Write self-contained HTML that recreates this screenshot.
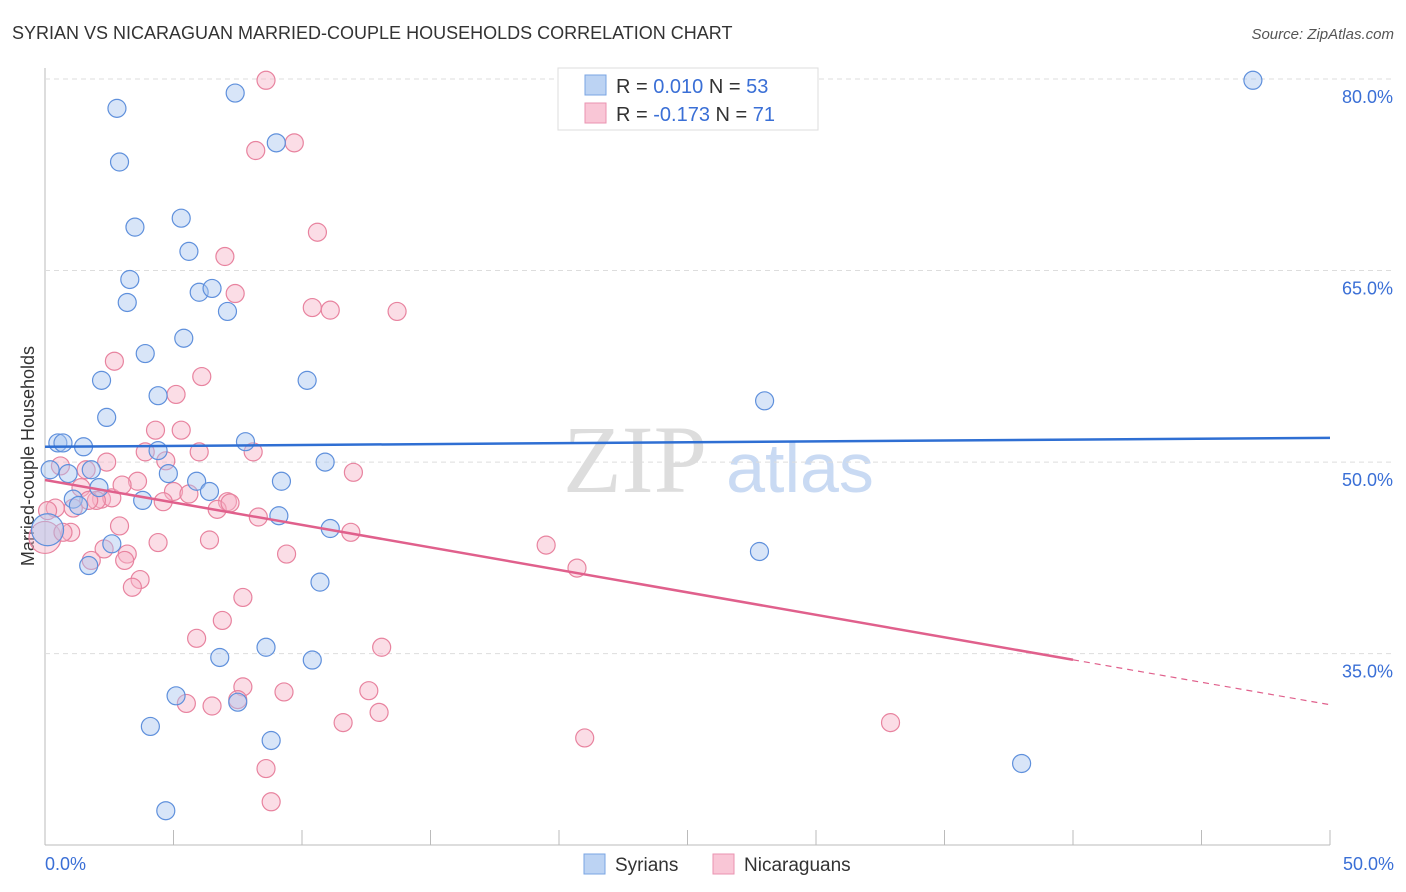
<!DOCTYPE html>
<html><head><meta charset="utf-8"><style>
body{margin:0;background:#fff;font-family:"Liberation Sans",sans-serif}
svg{display:block}
</style></head><body>
<svg id="c" width="1406" height="892">
<text x="12" y="39" font-size="18" fill="#333">SYRIAN VS NICARAGUAN MARRIED-COUPLE HOUSEHOLDS CORRELATION CHART</text>
<text x="1394" y="39" font-size="15" fill="#555" font-style="italic" text-anchor="end">Source: ZipAtlas.com</text>
<text x="635" y="492" font-size="96" fill="#ddd" font-family="Liberation Serif,serif" text-anchor="middle">ZIP</text>
<text x="800" y="492" font-size="70" fill="#c9daf3" text-anchor="middle">atlas</text>
<text transform="translate(34,456) rotate(-90)" font-size="18" fill="#333" text-anchor="middle">Married-couple Households</text>
<g id="grid"></g><g id="pts"></g><g id="lines"></g>
<g>
<rect x="558" y="68" width="260" height="62" fill="#fff" stroke="#ddd"/>
<rect x="585" y="75" width="21" height="20" fill="#bcd3f3" stroke="#7aa5e3"/>
<rect x="585" y="103" width="21" height="20" fill="#f9c6d6" stroke="#ea93b0"/>
<text x="616" y="93" font-size="20" fill="#333">R = <tspan fill="#3a6fd6"> 0.010</tspan>   N = <tspan fill="#3a6fd6">53</tspan></text>
<text x="616" y="121" font-size="20" fill="#333">R = <tspan fill="#3a6fd6">-0.173</tspan>   N = <tspan fill="#3a6fd6"> 71</tspan></text>
</g>
<g>
<rect x="584" y="854" width="21" height="20" fill="#bcd3f3" stroke="#7aa5e3"/>
<text x="615" y="871" font-size="19" fill="#333">Syrians</text>
<rect x="713" y="854" width="21" height="20" fill="#f9c6d6" stroke="#ea93b0"/>
<text x="744" y="871" font-size="19" fill="#333">Nicaraguans</text>
</g>
</svg>
<script>
const yTicks=[80,65,50,35];
const yTickLabels=["80.0%","65.0%","50.0%","35.0%"];
const xTickLabels=["0.0%","50.0%"];
const syrX=[2.8,7.4,2.9,9.0,3.5,5.3,5.6,3.3,3.2,6.0,6.5,7.1,5.4,3.9,2.2,10.2,4.4,2.4,0.5,0.7,1.5,4.4,7.8,10.9,0.9,1.8,4.8,9.2,5.9,2.1,6.4,1.1,3.8,1.3,9.1,11.1,2.6,1.7,10.7,6.8,8.6,10.4,5.1,7.5,4.1,8.8,4.7,47.0,28.0,27.8,38.0,0.2,0.1];
const syrY=[77.7,78.9,73.5,75.0,68.4,69.1,66.5,64.3,62.5,63.3,63.6,61.8,59.7,58.5,56.4,56.4,55.2,53.5,51.5,51.5,51.2,50.9,51.6,50.0,49.1,49.4,49.1,48.5,48.5,48.0,47.7,47.1,47.0,46.6,45.8,44.8,43.6,41.9,40.6,34.7,35.5,34.5,31.7,31.2,29.3,28.2,22.7,79.9,54.8,43.0,26.4,49.4,44.7];
const nicX=[8.6,9.7,8.2,10.6,7.0,7.4,10.4,11.1,13.7,2.7,6.1,5.1,5.3,4.3,3.9,6.0,8.1,2.4,4.7,12.0,0.6,1.4,3.6,5.0,5.6,2.2,2.6,2.0,1.7,7.1,4.6,6.7,0.4,0.1,1.1,8.3,2.9,6.4,1.0,11.9,4.4,19.5,2.3,3.2,3.1,9.4,1.8,20.7,3.7,3.4,7.7,6.9,5.9,13.1,7.7,9.3,12.6,7.5,5.5,6.5,13.0,11.6,32.9,21.0,8.6,8.8,0.0,1.6,0.7,3.0,7.2];
const nicY=[79.9,75.0,74.4,68.0,66.1,63.2,62.1,61.9,61.8,57.9,56.7,55.3,52.5,52.5,50.8,50.8,50.8,50.0,50.1,49.2,49.7,48.0,48.5,47.7,47.5,47.1,47.2,47.0,47.0,46.9,46.9,46.3,46.4,46.2,46.4,45.7,45.0,43.9,44.5,44.5,43.7,43.5,43.2,42.8,42.3,42.8,42.3,41.7,40.8,40.2,39.4,37.6,36.2,35.5,32.4,32.0,32.1,31.4,31.1,30.9,30.4,29.6,29.6,28.4,26.0,23.4,44.1,49.4,44.5,48.2,46.8];
const syrTrend=[51.2,51.9];
const nicTrend=[48.6,31.0];
const NS="http://www.w3.org/2000/svg";
const X=v=>45+v*25.7, Y=v=>79+(80-v)*12.77;
function mk(t,a,p){const e=document.createElementNS(NS,t);for(const k in a)e.setAttribute(k,a[k]);p.appendChild(e);return e;}
const grid=document.getElementById('grid');
mk('line',{x1:45,y1:68,x2:45,y2:845,stroke:'#bbb'},grid);
mk('line',{x1:45,y1:845,x2:1330,y2:845,stroke:'#bbb'},grid);
for(let i=1;i<=10;i++){const l=mk('line',{x1:X(i*5),y1:830,x2:X(i*5),y2:845,stroke:'#bbb'},grid);

}
yTicks.forEach((v,i)=>{const g=mk('line',{x1:45,y1:Y(v),x2:1395,y2:Y(v),stroke:'#ddd','stroke-dasharray':'5,4'},grid);


const t=mk('text',{x:1393,y:Y(v)+24,'font-size':18,fill:'#3a6fd6','text-anchor':'end'},grid);t.textContent=yTickLabels[i];

});
const t0=mk('text',{x:45,y:870,'font-size':18,fill:'#3a6fd6'},grid);t0.textContent=xTickLabels[0];


const t1=mk('text',{x:1394,y:870,'font-size':18,fill:'#3a6fd6','text-anchor':'end'},grid);t1.textContent=xTickLabels[1];


const pts=document.getElementById('pts');
function dots(xs,ys,f,s,n){xs.forEach((x,i)=>{const big=(x<0.3&&ys[i]<45.5&&ys[i]>43.5);const c=mk('circle',{cx:X(x),cy:Y(ys[i]),r:big?16:9,fill:f,'fill-opacity':0.45,stroke:s,'stroke-width':1.2},pts);

});}
dots(nicX,nicY,'#f6b3c8','#e8839f','nicaraguan-point');
dots(syrX,syrY,'#a9c6ef','#5f90dc','syrian-point');
const L=document.getElementById('lines');
const bl=mk('line',{x1:X(0),y1:Y(syrTrend[0]),x2:X(50),y2:Y(syrTrend[1]),stroke:'#2f6fd3','stroke-width':2.5},L);


const pm=v=>nicTrend[0]+(nicTrend[1]-nicTrend[0])*v/50;
const pl=mk('line',{x1:X(0),y1:Y(pm(0)),x2:X(40),y2:Y(pm(40)),stroke:'#e0608c','stroke-width':2.5},L);


const pd=mk('line',{x1:X(40),y1:Y(pm(40)),x2:X(50),y2:Y(pm(50)),stroke:'#e0608c','stroke-width':1.2,'stroke-dasharray':'6,5'},L);


</script>
</body></html>
